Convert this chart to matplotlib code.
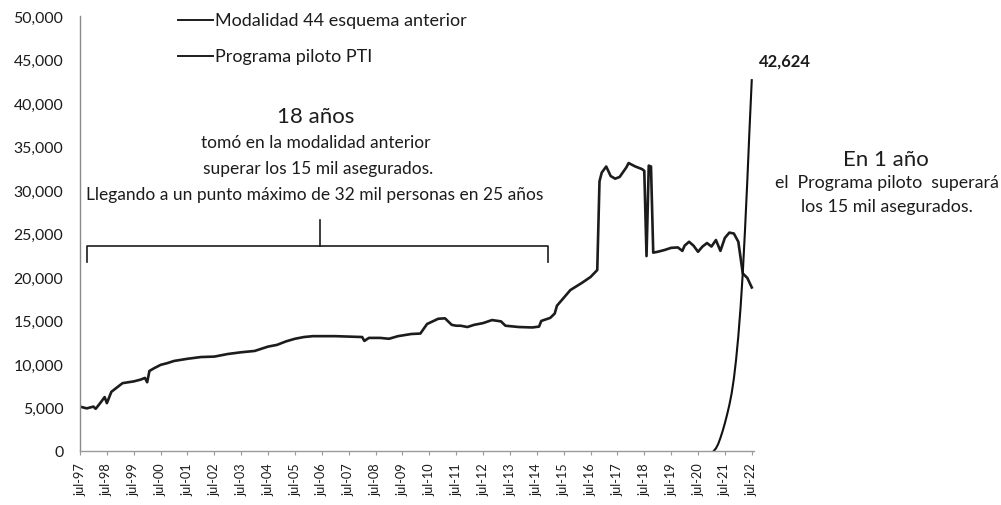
import matplotlib
matplotlib.use("Agg")
import matplotlib.pyplot as plt
from matplotlib.ticker import FuncFormatter

plt.rcParams['font.family'] = ['Lato', 'DejaVu Sans']

# ---------------- data ----------------
meses_mod44 = [
    "1997-07", "1997-10", "1998-01", "1998-02", "1998-04", "1998-06", "1998-07", "1998-09",
    "1998-11", "1999-02", "1999-07", "1999-10", "1999-12", "2000-01", "2000-02", "2000-04",
    "2000-07", "2000-10", "2001-01", "2001-07", "2002-01", "2002-07", "2003-01", "2003-07",
    "2004-01", "2004-07", "2004-11", "2005-03", "2005-07", "2005-11", "2006-03", "2006-07",
    "2007-01", "2007-07", "2008-01", "2008-02", "2008-04", "2008-09", "2009-01", "2009-05",
    "2009-11", "2010-03", "2010-06", "2010-11", "2011-02", "2011-05", "2011-07", "2011-09",
    "2011-12", "2012-03", "2012-07", "2012-11", "2013-03", "2013-05", "2013-11", "2014-05",
    "2014-08", "2014-09", "2015-01", "2015-03", "2015-04", "2015-07", "2015-10", "2016-03",
    "2016-07", "2016-10", "2016-11", "2016-12", "2017-02", "2017-04", "2017-06", "2017-08",
    "2017-11", "2017-12", "2018-03", "2018-06", "2018-07", "2018-08", "2018-09", "2018-10",
    "2018-11", "2019-01", "2019-04", "2019-07", "2019-10", "2019-12", "2020-01", "2020-03",
    "2020-05", "2020-07", "2020-09", "2020-11", "2021-01", "2021-03", "2021-05", "2021-07",
    "2021-09", "2021-11", "2022-01", "2022-03", "2022-05", "2022-07",
]
valores_mod44 = [
    5100, 4900, 5100, 4850, 5500, 6200, 5500, 6800,
    7200, 7800, 8000, 8200, 8400, 7900, 9200, 9500,
    9900, 10100, 10350, 10600, 10800, 10850, 11150, 11350,
    11500, 12000, 12200, 12600, 12900, 13100, 13200, 13200,
    13200, 13150, 13100, 12650, 13000, 13000, 12900, 13200,
    13450, 13500, 14600, 15200, 15250, 14500, 14400, 14400,
    14250, 14500, 14700, 15050, 14900, 14400, 14250, 14200,
    14300, 14950, 15300, 15800, 16700, 17600, 18500, 19300,
    20000, 20800, 31000, 32000, 32700, 31600, 31300, 31500,
    32600, 33100, 32700, 32400, 32200, 22400, 32800, 32700,
    22800, 22900, 23100, 23350, 23400, 23000, 23600, 24050,
    23600, 22900, 23500, 23900, 23500, 24250, 23000, 24500,
    25100, 25000, 24050, 20400, 19900, 18800,
]

meses_pti = [
    "2021-02", "2021-03", "2021-04", "2021-05", "2021-06", "2021-07", "2021-08", "2021-09",
    "2021-10", "2021-11", "2021-12", "2022-01", "2022-02", "2022-03", "2022-04", "2022-05",
    "2022-06", "2022-07",
]
valores_pti = [
    0, 300, 800, 1500, 2300, 3200, 4200, 5300,
    6600, 8300, 10500, 13200, 16500, 20500, 25500, 31000,
    37000, 42624,
]

etiquetas_x = ["jul-%02d" % (y % 100) for y in range(1997, 2023)]
nombres_series = ["Modalidad 44 esquema anterior", "Programa piloto PTI"]


def a_mes(s):
    y, m = s.split("-")
    return (int(y) - 1997) * 12 + (int(m) - 7)


x_mod = [a_mes(s) for s in meses_mod44]
x_pti = [a_mes(s) for s in meses_pti]

# ---------------- figure ----------------
W, H = 1001, 506
fig = plt.figure(figsize=(W / 100, H / 100), dpi=100)


def fx(px):
    return px / W


def fy(py):
    return 1 - py / H


ink = "#1c1c1c"

ax = fig.add_axes([fx(80), fy(452), fx(754) - fx(80), fy(17) - fy(452)])
ax.set_xlim(0, 301)
ax.set_ylim(0, 50000)

ax.plot(x_mod, valores_mod44, color=ink, lw=1.9, solid_joinstyle="round")
ax.plot(x_pti, valores_pti, color="#111111", lw=1.5)

for s in ["top", "right"]:
    ax.spines[s].set_visible(False)
ax.spines["left"].set_color("#8a8a8a")
ax.spines["bottom"].set_color("#9a9a9a")
ax.spines["left"].set_linewidth(1.0)
ax.spines["bottom"].set_linewidth(1.0)

ax.set_yticks(range(0, 50001, 5000))
ax.yaxis.set_major_formatter(FuncFormatter(lambda v, p: f"{int(v):,}"))
ax.tick_params(axis="y", length=0, pad=12, labelsize=11.4, labelcolor=ink)

ax.set_xticks([12 * i for i in range(len(etiquetas_x))])
ax.set_xticklabels(etiquetas_x, rotation=90, fontsize=9.2, color=ink)
ax.tick_params(axis="x", length=3, width=0.8, color="#9a9a9a", pad=5)

# legend (manual, as in the source)
for nombre, ypx in zip(nombres_series, [21, 57]):
    fig.add_artist(plt.Line2D([fx(178), fx(213)], [fy(ypx), fy(ypx)],
                              color=ink, lw=1.4))
    fig.text(fx(215), fy(ypx), nombre, fontsize=13, va="center", ha="left", color=ink)

# bracket
bx0, bx1, bxc = 3.1, 209, 107
by, bend, btip = 23600, 21700, 26600
ax.plot([bx0, bx0, bx1, bx1], [bend, by, by, bend], color=ink, lw=1.2)
ax.plot([bxc, bxc], [by, btip], color=ink, lw=1.2)

# annotation texts
fig.text(fx(316), fy(117), "18 años", fontsize=16, ha="center", va="center", color=ink)
fig.text(fx(316), fy(143), "tomó en la modalidad anterior", fontsize=12.5, ha="center",
         va="center", color=ink)
fig.text(fx(318), fy(169), "superar los 15 mil asegurados.", fontsize=12.5, ha="center",
         va="center", color=ink)
fig.text(fx(315), fy(195), "Llegando a un punto máximo de 32 mil personas en 25 años",
         fontsize=12.5, ha="center", va="center", color=ink)

fig.text(fx(785), fy(62), "42,624", fontsize=12, fontweight="bold", ha="center",
         va="center", color=ink)
fig.text(fx(886), fy(160), "En 1 año", fontsize=16, ha="center", va="center", color=ink)
fig.text(fx(887), fy(183), "el  Programa piloto  superará", fontsize=12.8, ha="center",
         va="center", color=ink)
fig.text(fx(887), fy(207), "los 15 mil asegurados.", fontsize=12.8, ha="center",
         va="center", color=ink)

fig.savefig("out.png", dpi=100, facecolor="white")
